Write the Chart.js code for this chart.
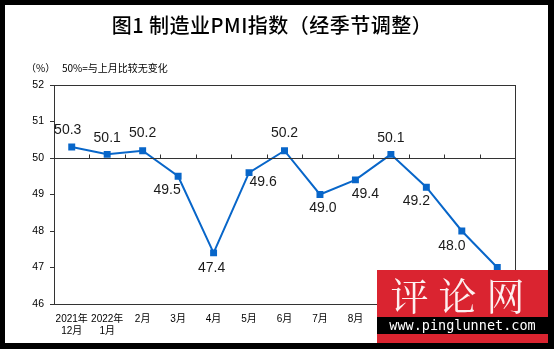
<!DOCTYPE html>
<html>
<head>
<meta charset="utf-8">
<script src="https://cdn.jsdelivr.net/npm/chart.js@4.4.1/dist/chart.umd.min.js"></script>
<style>
  html, body { margin: 0; padding: 0; background: #000; }
  #frame { position: relative; width: 554px; height: 349px; background: #000; overflow: hidden; }
  #sheet { position: absolute; left: 5px; top: 5px; right: 6px; bottom: 6px; background: #fff; }
  #chart { position: absolute; left: 0; top: 0; }
  .txt { position: absolute; white-space: nowrap; color: #000; font-family: "Noto Sans CJK SC", "DejaVu Sans", sans-serif; }
  #title { left: 0; width: 544px; top: 11px; text-align: center; font-size: 20px; font-weight: 500; line-height: 28px; letter-spacing: 0.5px; }
  #unit { left: 26px; top: 61px; font-size: 10px; line-height: 14px; }
  #note { left: 62px; top: 61px; font-size: 10px; line-height: 14px; }
  #mark { position: absolute; left: 377px; top: 270px; width: 171px; height: 73px; background: #da2430; }
  #mark .big { position: absolute; left: 0; top: 0; width: 171px; height: 47px; text-align: center; color: #fdf0f0;
               font-family: "Noto Serif CJK SC", "Noto Sans CJK SC", serif; font-size: 38px; line-height: 47px; letter-spacing: 10px; }
  #mark .url { position: absolute; left: 0; top: 47px; width: 171px; height: 17px; background: #000; color: #fff;
               font-family: "DejaVu Sans Mono", "Liberation Mono", monospace; font-size: 13.5px; line-height: 17px; text-align: center; }
</style>
</head>
<body>
<div id="frame">
  <div id="sheet"></div>
  <canvas id="chart" width="554" height="349"></canvas>
  <div class="txt" id="title">图1 制造业PMI指数（经季节调整）</div>
  <div class="txt" id="unit">（%）</div>
  <div class="txt" id="note">50%=与上月比较无变化</div>
  <div id="mark"><div class="big">评论网</div><div class="url">www.pinglunnet.com</div></div>
</div>
<script>
// Manufacturing PMI, seasonally adjusted (%)
const months = [
  ['2021年', '12月'], ['2022年', '1月'], '2月', '3月', '4月', '5月', '6月',
  '7月', '8月', '9月', '10月', '11月', '12月'
];
const pmi = [50.3, 50.1, 50.2, 49.5, 47.4, 49.6, 50.2, 49.0, 49.4, 50.1, 49.2, 48.0, 47.0];
const yTicks = [46, 47, 48, 49, 50, 51, 52];
const baseline = 50;

// where each value label sits relative to its point (px)
const labelOffsets = [
  [-4, -17], [0, -16], [0, -18], [-11, 14], [-2, 15], [14, 10], [0, -18],
  [3, 14], [10, 14], [0, -16], [-10, 14], [-10, 15], [-10, 15]
];

const LINE = '#0866c9';

// frame around the plot, the 50% reference line with its tick marks, and value labels
const decorations = {
  id: 'decorations',
  afterDatasetsDraw(chart) {
    const { ctx, chartArea: a, scales: { x, y } } = chart;
    ctx.save();
    ctx.strokeStyle = '#333';
    ctx.lineWidth = 1;
    ctx.strokeRect(Math.round(a.left) + 0.5, Math.round(a.top) + 0.5,
                   Math.round(a.right - a.left), Math.round(a.bottom - a.top));
    const yb = Math.round(y.getPixelForValue(baseline)) + 0.5;
    ctx.beginPath();
    ctx.moveTo(a.left, yb); ctx.lineTo(a.right, yb);
    const step = x.getPixelForValue(1) - x.getPixelForValue(0);
    for (let i = 1; i < months.length; i++) {
      const px = Math.round(x.getPixelForValue(i) - step / 2) + 0.5;
      ctx.moveTo(px, yb); ctx.lineTo(px, yb - 4);
    }
    ctx.stroke();
    ctx.restore();
  },
  afterDraw(chart) {
    const { ctx, scales: { x, y } } = chart;
    ctx.save();
    ctx.font = '14px "Liberation Sans", Arial, sans-serif';
    ctx.fillStyle = '#1a1a1a';
    ctx.textAlign = 'center';
    ctx.textBaseline = 'middle';
    pmi.forEach((v, i) => {
      const [dx, dy] = labelOffsets[i];
      ctx.fillText(v.toFixed(1), x.getPixelForValue(i) + dx, y.getPixelForValue(v) + dy);
    });
    ctx.restore();
  }
};

new Chart(document.getElementById('chart'), {
  type: 'line',
  data: {
    labels: months,
    datasets: [{
      data: pmi,
      borderColor: LINE,
      backgroundColor: LINE,
      borderWidth: 2,
      pointStyle: 'rect',
      pointRadius: 3.5,
      pointHoverRadius: 3.5,
      tension: 0
    }]
  },
  options: {
    responsive: false,
    animation: false,
    events: [],
    layout: { padding: { top: 85, right: 39, left: 5, bottom: 6 } },
    plugins: { legend: { display: false }, tooltip: { enabled: false }, title: { display: false } },
    scales: {
      x: {
        offset: true,
        grid: { display: false, drawTicks: false },
        border: { display: false },
        ticks: {
          color: '#000',
          font: { family: '"Liberation Sans", "Noto Sans CJK SC", sans-serif', size: 10 },
          padding: 9,
          maxRotation: 0,
          autoSkip: false
        },
        afterFit(s) { s.height = 39; }
      },
      y: {
        min: 46,
        max: 52,
        afterBuildTicks(s) { s.ticks = yTicks.map(v => ({ value: v })); },
        grid: { display: true, drawOnChartArea: false, drawTicks: true, tickLength: 4, color: '#333' },
        border: { display: false },
        ticks: {
          color: '#000',
          font: { family: '"Liberation Sans", Arial, sans-serif', size: 10.5 },
          padding: 6
        },
        afterFit(s) { s.width = 49; }
      }
    }
  },
  plugins: [decorations]
});
</script>
</body>
</html>
